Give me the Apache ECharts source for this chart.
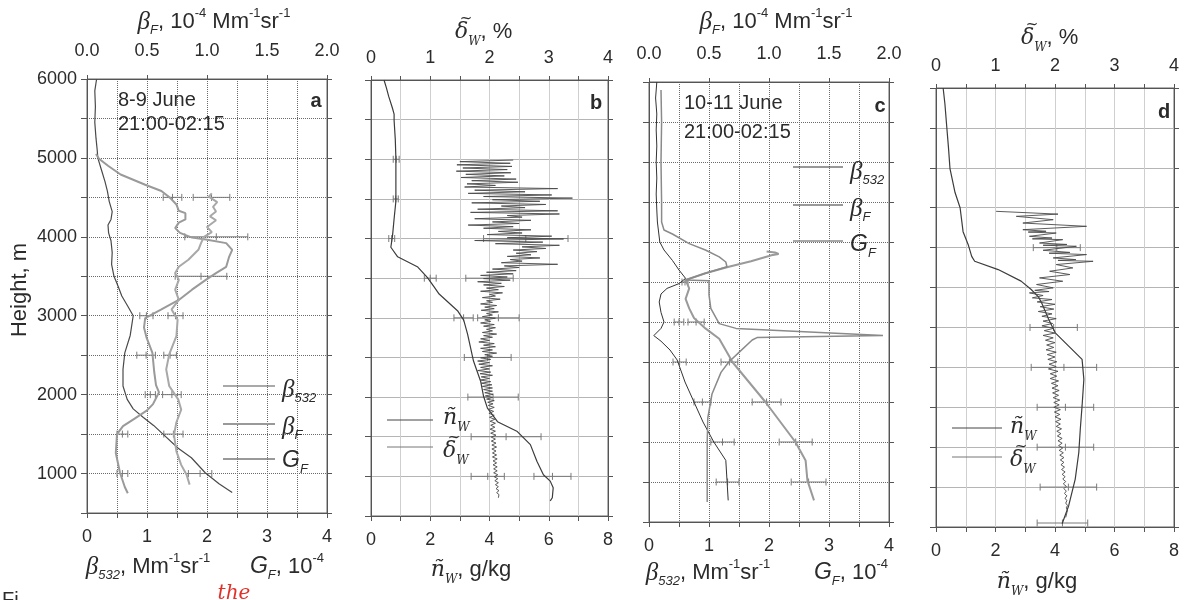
<!DOCTYPE html>
<html><head><meta charset="utf-8">
<script src="https://cdn.jsdelivr.net/npm/echarts@6/dist/echarts.min.js"></script>
<style>html,body{margin:0;padding:0;background:#fff}#c{width:1189px;height:600px}</style>
</head><body><div id="c"></div>
<script>
// ---------------- DATA (height in m) ----------------
// Panel a: 8-9 June. beta532 & G_F on bottom axis (0-4); betaF on top axis (0-2, 1e-4 Mm-1sr-1)
const a_beta532 = [[0.16,6000],[0.13,5850],[0.14,5650],[0.13,5450],[0.15,5250],[0.17,5100],[0.18,5000],[0.24,4850],[0.30,4700],[0.34,4580],[0.37,4450],[0.42,4320],[0.40,4220],[0.35,4150],[0.36,4050],[0.40,3950],[0.42,3800],[0.41,3650],[0.45,3500],[0.52,3370],[0.58,3250],[0.68,3120],[0.77,3000],[0.74,2850],[0.72,2750],[0.63,2530],[0.60,2320],[0.60,2110],[0.67,1940],[0.77,1820],[0.94,1710],[1.11,1610],[1.28,1490],[1.52,1320],[1.74,1200],[1.97,1010],[2.20,870],[2.42,760]];
const a_betaF = [[0.075,5050],[0.10,4990],[0.175,4900],[0.28,4790],[0.485,4660],[0.62,4580],[0.695,4490],[0.745,4410],[0.765,4330],[0.82,4300],[0.82,4220],[0.765,4180],[0.735,4110],[0.775,4050],[0.875,3990],[0.99,3965],[1.16,3920],[1.21,3835],[1.185,3750],[1.16,3620],[1.075,3540],[0.99,3455],[0.875,3330],[0.765,3200],[0.62,3080],[0.485,2970],[0.475,2850],[0.495,2730],[0.545,2530],[0.56,2290],[0.575,2120],[0.60,2030],[0.55,1880],[0.50,1800],[0.40,1700],[0.30,1600],[0.25,1500],[0.24,1260],[0.275,1010],[0.315,830],[0.34,750]];
const a_GF = [[2.08,4550],[2.03,4510],[2.17,4440],[2.10,4380],[2.15,4320],[2.05,4260],[2.15,4210],[2.00,4125],[2.08,4060],[1.95,4000],[1.90,3920],[1.86,3840],[1.69,3710],[1.53,3620],[1.47,3540],[1.53,3455],[1.47,3330],[1.53,3200],[1.41,3080],[1.51,2950],[1.49,2740],[1.37,2510],[1.32,2320],[1.37,2110],[1.52,1940],[1.57,1810],[1.49,1650],[1.45,1490],[1.49,1280],[1.57,1110],[1.66,985],[1.71,860]];
const a_err = [[4500,1.27,1.58],[4500,1.77,2.38],[4000,1.63,2.68],[3500,1.47,2.33],[3000,0.88,1.10],[3000,1.35,1.60],[2500,0.83,1.14],[2500,1.28,1.49],[2000,0.97,1.14],[2000,1.26,1.57],[1500,0.50,0.68],[1500,1.28,1.60],[1000,0.50,0.68],[1000,1.69,2.08]];

// Panel b: 8-9 June. n_w on bottom axis (g/kg), delta_w on top axis (%)
const b_nw = [[0.44,6000],[0.52,5900],[0.60,5790],[0.72,5650],[0.78,5570],[0.78,5490],[0.82,5250],[0.84,5010],[0.84,4750],[0.84,4470],[0.78,4250],[0.73,4050],[0.67,3890],[0.90,3770],[1.58,3640],[1.90,3510],[2.13,3390],[2.30,3300],[2.92,3090],[3.13,2970],[3.26,2795],[3.46,2455],[3.70,2200],[3.80,2010],[3.93,1860],[4.27,1690],[4.94,1565],[5.38,1400],[5.60,1190],[5.82,1020],[6.05,940],[6.15,855],[6.12,730],[6.05,690]];
const b_dw = [[2.40,4990],[1.50,4970],[2.35,4950],[1.45,4930],[2.38,4910],[1.55,4890],[2.30,4870],[1.44,4850],[2.36,4830],[1.60,4810],[2.25,4790],[1.52,4770],[2.45,4750],[1.70,4730],[2.48,4710],[1.62,4690],[2.10,4670],[1.58,4650],[3.15,4630],[1.75,4610],[2.60,4590],[1.64,4570],[3.05,4550],[1.90,4530],[3.40,4510],[2.05,4490],[2.85,4470],[1.70,4450],[2.95,4430],[2.20,4410],[2.60,4390],[1.80,4370],[3.15,4350],[1.68,4330],[3.18,4310],[2.30,4290],[2.55,4270],[1.75,4250],[2.70,4230],[2.05,4210],[2.50,4190],[1.64,4170],[2.40,4150],[1.90,4130],[2.70,4110],[2.15,4090],[2.55,4070],[1.96,4050],[3.05,4030],[2.30,4010],[3.25,3995],[1.75,3975],[2.90,3955],[2.10,3935],[3.18,3915],[2.55,3895],[2.95,3875],[2.40,3855],[2.80,3835],[2.45,3815],[2.70,3795],[2.30,3775],[2.85,3755],[2.35,3735],[2.55,3715],[2.20,3695],[3.15,3675],[2.25,3655],[2.50,3635],[2.05,3615],[2.45,3595],[1.95,3575],[2.40,3555],[1.85,3535],[2.30,3515],[1.90,3495],[2.35,3475],[1.80,3455],[2.20,3435],[1.90,3415],[2.25,3395],[1.95,3375],[2.15,3355],[1.85,3335],[2.22,3315],[2.00,3295],[2.10,3275],[1.88,3255],[2.18,3235],[1.95,3215],[2.05,3195],[1.85,3175],[2.12,3155],[1.92,3135],[2.08,3115],[1.86,3095],[2.15,3075],[1.95,3055],[2.05,3035],[1.88,3015],[2.10,2995],[1.92,2975],[2.02,2955],[1.85,2935],[2.08,2915],[1.90,2895],[2.10,2875],[1.95,2855],[2.05,2835],[1.88,2815],[2.12,2795],[1.90,2775],[2.05,2755],[1.85,2735],[2.00,2715],[1.82,2695],[2.08,2675],[1.90,2655],[2.10,2635],[1.85,2615],[2.05,2595],[1.88,2575],[2.12,2555],[1.92,2535],[2.05,2515],[1.85,2495],[2.02,2475],[1.80,2455],[2.00,2435],[1.82,2415],[2.05,2395],[1.85,2375],[2.00,2355],[1.80,2335],[2.02,2315],[1.84,2295],[2.05,2275],[1.86,2255],[2.00,2235],[1.84,2215],[2.02,2195],[1.86,2175],[2.04,2155],[1.88,2135],[2.05,2115],[1.90,2095],[2.05,2075],[1.92,2055],[2.06,2035],[1.93,2015],[2.05,1995],[1.95,1975],[2.08,1955],[1.97,1935],[2.06,1915],[1.98,1895],[2.08,1870],[1.98,1845],[2.07,1820],[1.99,1795],[2.08,1770],[2.00,1745],[2.09,1720],[2.01,1695],[2.10,1670],[2.02,1645],[2.09,1620],[2.01,1595],[2.10,1570],[2.02,1545],[2.11,1520],[2.03,1495],[2.10,1470],[2.03,1445],[2.11,1420],[2.04,1395],[2.12,1370],[2.04,1345],[2.11,1320],[2.05,1295],[2.12,1270],[2.05,1245],[2.13,1220],[2.06,1195],[2.12,1170],[2.06,1145],[2.13,1120],[2.07,1095],[2.13,1070],[2.07,1045],[2.14,1020],[2.08,995],[2.14,970],[2.09,945],[2.15,920],[2.10,895],[2.15,870],[2.11,845],[2.16,820],[2.12,795],[2.16,770],[2.14,745],[2.15,730]];
const b_err = [[5000,0.75,0.95],[4500,0.75,0.92],[4000,0.60,0.80],[4000,3.80,6.65],[3500,1.80,2.20],[3500,3.20,4.80],[3000,2.80,3.45],[3000,3.60,5.00],[2500,3.15,4.73],[2000,3.27,4.97],[1500,3.38,5.74],[1000,3.38,4.50],[1000,5.50,6.75]];

// Panel c: 10-11 June
const c_beta532 = [[0.13,6000],[0.11,5800],[0.13,5600],[0.12,5400],[0.13,5200],[0.12,5000],[0.13,4800],[0.12,4600],[0.13,4400],[0.14,4250],[0.18,4000],[0.25,3900],[0.39,3770],[0.50,3650],[0.61,3545],[0.50,3480],[0.30,3420],[0.20,3350],[0.17,3250],[0.20,3120],[0.25,3000],[0.20,2920],[0.08,2830],[0.20,2760],[0.35,2650],[0.47,2525],[0.60,2250],[0.75,2000],[0.90,1750],[1.08,1500],[1.28,1270],[1.30,1020],[1.32,770]];
const c_betaF = [[0.98,3880],[1.05,3870],[1.08,3850],[1.02,3835],[1.00,3825],[0.85,3760],[0.665,3690],[0.47,3610],[0.305,3525],[0.335,3420],[0.305,3290],[0.335,3170],[0.375,3050],[0.47,2920],[0.585,2790],[0.665,2580],[0.695,2500],[0.97,2000],[1.22,1500],[1.305,1270],[1.32,1020],[1.375,770]];
const c_GF = [[0.20,5900],[0.21,5500],[0.20,5000],[0.21,4500],[0.21,4250],[0.25,4150],[0.39,4100],[0.67,3980],[0.94,3900],[1.17,3815],[1.28,3750],[1.30,3690],[0.94,3610],[0.61,3525],[1.00,3515],[1.00,3340],[1.03,3170],[1.17,2980],[1.45,2920],[3.90,2830],[1.80,2805],[1.72,2775],[1.50,2620],[1.33,2500],[1.20,2370],[1.05,2100],[0.98,1800],[0.97,1500],[0.97,1000],[0.97,750]];
const c_err = [[3500,0.55,0.65],[3000,0.42,0.58],[3000,0.65,0.92],[2500,0.40,0.62],[2500,1.20,1.48],[2000,0.75,1.03],[2000,1.72,2.20],[1500,1.03,1.42],[1500,2.17,2.72],[1000,1.12,1.50],[1000,2.37,2.95]];

// Panel d: 10-11 June
const d_nw = [[0.24,6000],[0.30,5800],[0.36,5520],[0.42,5250],[0.47,4990],[0.55,4850],[0.64,4690],[0.81,4500],[0.91,4200],[1.08,4040],[1.20,3890],[1.30,3830],[2.09,3725],[2.86,3580],[3.20,3475],[3.45,3380],[3.56,3300],[3.79,3100],[4.01,2933],[4.46,2767],[4.91,2600],[4.97,2350],[4.91,2017],[4.85,1725],[4.80,1433],[4.68,1100],[4.46,767],[4.24,540]];
const d_dw = [[1.01,4455],[2.05,4420],[1.35,4392],[1.97,4350],[1.46,4308],[2.53,4267],[1.46,4225],[1.85,4205],[1.55,4195],[2.02,4183],[1.57,4142],[1.95,4120],[1.62,4110],[2.13,4100],[1.74,4058],[2.20,4040],[1.80,4030],[2.36,4017],[1.80,3967],[2.25,3940],[1.90,3930],[2.53,3913],[1.97,3871],[2.35,3850],[2.05,3840],[2.64,3829],[2.02,3788],[2.30,3746],[1.91,3704],[2.25,3663],[1.74,3621],[2.13,3579],[1.69,3538],[1.97,3496],[1.66,3465],[1.90,3450],[1.57,3433],[1.80,3400],[1.62,3371],[1.95,3350],[1.70,3320],[2.00,3290],[1.75,3260],[1.98,3230],[1.72,3200],[1.95,3170],[1.78,3140],[2.02,3110],[1.80,3080],[1.96,3050],[1.78,3020],[1.98,2990],[1.82,2960],[2.00,2930],[1.80,2900],[1.97,2870],[1.84,2840],[2.00,2810],[1.86,2780],[1.98,2750],[1.85,2720],[2.02,2690],[1.87,2660],[2.00,2630],[1.88,2600],[2.03,2570],[1.90,2540],[2.02,2510],[1.89,2480],[2.05,2450],[1.92,2420],[2.03,2390],[1.92,2360],[2.06,2330],[1.94,2300],[2.05,2270],[1.95,2240],[2.07,2210],[1.96,2180],[2.06,2150],[1.97,2120],[2.08,2090],[1.98,2060],[2.07,2030],[1.98,2000],[2.09,1970],[1.99,1940],[2.08,1910],[2.00,1880],[2.10,1850],[2.01,1820],[2.09,1790],[2.02,1760],[2.11,1730],[2.03,1700],[2.10,1670],[2.04,1640],[2.12,1610],[2.05,1580],[2.12,1550],[2.06,1520],[2.13,1490],[2.07,1460],[2.14,1430],[2.08,1400],[2.15,1370],[2.09,1340],[2.15,1310],[2.10,1280],[2.16,1250],[2.11,1220],[2.17,1190],[2.12,1160],[2.17,1130],[2.13,1100],[2.18,1070],[2.14,1040],[2.19,1010],[2.15,980],[2.19,950],[2.16,920],[2.20,890],[2.17,860],[2.20,830],[2.18,800],[2.21,770],[2.19,740],[2.21,710],[2.20,680],[2.18,620]];
const d_err = [[4000,3.27,4.85],[3000,3.16,4.75],[2500,3.20,5.40],[2000,3.40,5.30],[1500,3.40,5.30],[1000,3.50,5.40],[550,3.40,5.10]];

// ---------------- LAYOUT ----------------
const grids = [
  {left:87, top:79, width:240, height:434},
  {left:371, top:80, width:237, height:436},
  {left:649, top:82, width:240, height:440},
  {left:936, top:88, width:238, height:439}
];
const TXT = '#2b2b2b', AX = '#555';
const FONT = 'Liberation Sans';

const xAxes = [], yAxes = [];
grids.forEach((g, i) => {
  const lidar = (i === 0 || i === 2);
  const dotted = {show:true, lineStyle:{color: lidar ? '#6a6a6a' : '#cfcfcf', type: lidar ? 'dotted' : 'solid', width:1}};
  xAxes.push({
    type:'value', gridIndex:i, position:'bottom', min:0, max: lidar ? 4 : 8, interval: lidar ? 0.5 : 1,
    axisLine:{show:true, onZero:false, lineStyle:{color:AX}},
    axisTick:{show:true, inside:false, length:5, lineStyle:{color:AX}},
    axisLabel:{show:true, margin:15, color:TXT, fontSize:18, fontFamily:FONT,
      formatter: v => lidar ? (Number.isInteger(v) ? String(v) : '') : (v % 2 === 0 ? String(v) : '')},
    splitLine: dotted
  });
  xAxes.push({
    type:'value', gridIndex:i, position:'top', min:0, max: lidar ? 2 : 4, interval:0.5,
    axisLine:{show:true, onZero:false, lineStyle:{color:AX}},
    axisTick:{show:true, inside:false, length:4, lineStyle:{color:AX}},
    axisLabel:{show:true, margin: lidar ? 19 : 13, color:TXT, fontSize:18, fontFamily:FONT,
      formatter: v => lidar ? v.toFixed(1) : (Number.isInteger(v) ? String(v) : '')},
    splitLine:{show:false}
  });
  yAxes.push({
    type:'value', gridIndex:i, position:'left', min:500, max:6000, interval:500,
    axisLine:{show:true, onZero:false, lineStyle:{color:AX}},
    axisTick:{show:true, inside:false, length:6, lineStyle:{color:AX}},
    axisLabel:{show: i === 0, margin:10, color:TXT, fontSize:18, fontFamily:FONT,
      formatter: v => (v % 1000 === 0 ? String(v) : '')},
    splitLine:{show:true, lineStyle:{color: lidar ? '#6a6a6a' : '#b5b5b5', type: lidar ? 'dotted' : 'solid', width:1}}
  });
  yAxes.push({
    type:'value', gridIndex:i, position:'right', min:500, max:6000, interval:500,
    axisLine:{show:true, onZero:false, lineStyle:{color:AX}},
    axisTick:{show:true, inside:false, length:5, lineStyle:{color:AX}},
    axisLabel:{show:false}, splitLine:{show:false}
  });
});

function line(name, data, gi, top, color, width) {
  return {type:'line', name, data, xAxisIndex: 2*gi + (top ? 1 : 0), yAxisIndex: 2*gi,
    showSymbol:false, symbol:'none', smooth:false, silent:true, z:3,
    lineStyle:{color, width}};
}
function errRender(params, api) {
  const h = api.value(0), lo = api.value(1), hi = api.value(2);
  const p1 = api.coord([lo, h]), p2 = api.coord([hi, h]), pm = api.coord([(lo+hi)/2, h]);
  const st = {stroke:'#7a7a7a', lineWidth:1};
  const c = 3.5;
  return {type:'group', children:[
    {type:'line', shape:{x1:p1[0], y1:p1[1], x2:p2[0], y2:p2[1]}, style:st},
    {type:'line', shape:{x1:p1[0], y1:p1[1]-c, x2:p1[0], y2:p1[1]+c}, style:st},
    {type:'line', shape:{x1:p2[0], y1:p2[1]-c, x2:p2[0], y2:p2[1]+c}, style:st},
    {type:'line', shape:{x1:pm[0], y1:pm[1]-c, x2:pm[0], y2:pm[1]+c}, style:st}
  ]};
}
function errs(data, gi) {
  return {type:'custom', xAxisIndex:2*gi, yAxisIndex:2*gi, renderItem:errRender, data,
    dimensions:['h','lo','hi'], encode:{x:[1,2], y:0}, silent:true, z:2};
}

const series = [
  errs(a_err, 0),
  line('a β532', a_beta532, 0, false, '#4a4a4a', 1.2),
  line('a βF', a_betaF, 0, true, '#9a9a9a', 2),
  line('a GF', a_GF, 0, false, '#a8a8a8', 2),
  errs(b_err, 1),
  line('b nw', b_nw, 1, false, '#3c3c3c', 1.2),
  line('b dw', b_dw, 1, true, '#4a4a4a', 0.9),
  errs(c_err, 2),
  line('c β532', c_beta532, 2, false, '#333333', 1),
  line('c βF', c_betaF, 2, true, '#9a9a9a', 2),
  line('c GF', c_GF, 2, false, '#8a8a8a', 1.5),
  errs(d_err, 3),
  line('d nw', d_nw, 3, false, '#3c3c3c', 1.2),
  line('d dw', d_dw, 3, true, '#4a4a4a', 0.9)
];

// ---------------- TEXT ----------------
const rich = {
  n:   {fontFamily:FONT, fontSize:22, lineHeight:30, verticalAlign:'middle', fill:TXT},
  g:   {fontFamily:'Liberation Serif', fontStyle:'italic', fontSize:25, lineHeight:30, verticalAlign:'middle', fill:TXT},
  gi:  {fontFamily:FONT, fontStyle:'italic', fontSize:23, lineHeight:30, verticalAlign:'middle', fill:TXT},
  sub: {fontFamily:FONT, fontStyle:'italic', fontSize:13, lineHeight:13, verticalAlign:'bottom', fill:TXT},
  sup: {fontFamily:FONT, fontSize:13, lineHeight:13, verticalAlign:'top', fill:TXT},
  gs:  {fontFamily:'DejaVu Serif', fontStyle:'italic', fontSize:22, lineHeight:32, verticalAlign:'middle', fill:TXT},
  subs:{fontFamily:'DejaVu Serif', fontStyle:'italic', fontSize:12, lineHeight:12, verticalAlign:'bottom', fill:TXT}
};
function T(text, x, y, opts) {
  opts = opts || {};
  return {type:'text', x, y, rotation: opts.rot || 0, silent:true, z:10,
    style:{text, rich, x:0, y:0, fill: opts.fill || TXT, fontFamily: opts.ff || FONT,
      fontSize: opts.fs || 20, fontWeight: opts.fw || 'normal', fontStyle: opts.fst || 'normal',
      align: opts.al || 'center', textAlign: opts.al || 'center',
      verticalAlign:'middle', textVerticalAlign:'middle'}};
}
function L(x1, x2, y, color, w) {
  return {type:'line', silent:true, z:10, shape:{x1, y1:y, x2, y2:y}, style:{stroke:color, lineWidth:w}};
}
// tilde accent drawn over a delta glyph
function tilde(x, y) {
  return T('~', x, y, {ff:'DejaVu Sans', fs:15});
}
const betaFTitle = '{g|β}{sub|F}{n|, 10}{sup|-4}{n| Mm}{sup|-1}{n|sr}{sup|-1}';
const b532Title = '{g|β}{sub|532}{n|, Mm}{sup|-1}{n|sr}{sup|-1}';
const gfTitle = '{gi|G}{sub|F}{n|, 10}{sup|-4}';
const dwTitle = '{gs|δ}{subs|W}{n|, %}';
const nwTitle = '{gs|ñ}{subs|W}{n|, g/kg}';

const graphics = [
  T(betaFTitle, 214, 22), T(betaFTitle, 776, 22),
  T(dwTitle, 455, 32, {al:'left'}), tilde(466, 19),
  T(dwTitle, 1021, 38, {al:'left'}), tilde(1032, 25),
  T(b532Title, 148, 567), T(gfTitle, 287, 567),
  T(b532Title, 708, 573), T(gfTitle, 851, 573),
  T(nwTitle, 471, 570), T(nwTitle, 1037, 582),
  T('Height, m', 20, 290, {rot: Math.PI/2, fs:22}),
  T('a', 316, 101, {fw:'bold', fs:20}), T('b', 596, 103, {fw:'bold', fs:20}),
  T('c', 880, 106, {fw:'bold', fs:20}), T('d', 1164, 112, {fw:'bold', fs:20}),
  T('8-9 June', 118, 100, {al:'left', fs:20}), T('21:00-02:15', 118, 124, {al:'left', fs:20}),
  T('10-11 June', 684, 103, {al:'left', fs:20}), T('21:00-02:15', 684, 132, {al:'left', fs:20}),
  // legend a
  L(223, 275, 386, '#555', 1.2), L(223, 275, 424, '#999', 2), L(223, 275, 459, '#777', 1.5),
  T('{g|β}{sub|532}', 282, 390, {al:'left'}), T('{g|β}{sub|F}', 282, 427, {al:'left'}), T('{gi|G}{sub|F}', 282, 461, {al:'left'}),
  // legend c
  L(793, 843, 167, '#333', 1), L(793, 843, 205, '#777', 1.5), L(793, 843, 241, '#8a8a8a', 1.5),
  T('{g|β}{sub|532}', 850, 172, {al:'left'}), T('{g|β}{sub|F}', 850, 209, {al:'left'}), T('{gi|G}{sub|F}', 850, 245, {al:'left'}),
  // legend b
  L(387, 433, 420, '#444', 1), L(387, 433, 447, '#777', 1),
  T('{gs|ñ}{subs|W}', 443, 418, {al:'left'}), T('{gs|δ}{subs|W}', 443, 451, {al:'left'}), tilde(454, 438),
  // legend d
  L(952, 1002, 428, '#444', 1), L(952, 1002, 457, '#777', 1),
  T('{gs|ñ}{subs|W}', 1010, 427, {al:'left'}), T('{gs|δ}{subs|W}', 1010, 460, {al:'left'}), tilde(1021, 447),
  // scan annotations
  T('the', 234, 594, {fill:'#e0302a', ff:'DejaVu Serif', fst:'italic', fs:20}),
  T('Fi', 2, 600, {al:'left', fs:20})
];

const chart = echarts.init(document.getElementById('c'), null, {renderer:'canvas'});
chart.setOption({
  backgroundColor:'#ffffff',
  animation:false,
  grid: grids.map(g => Object.assign({show:true, borderColor:'#666', borderWidth:1, backgroundColor:'transparent'}, g)),
  xAxis: xAxes,
  yAxis: yAxes,
  series,
  graphic: graphics
});
</script>
</body></html>
